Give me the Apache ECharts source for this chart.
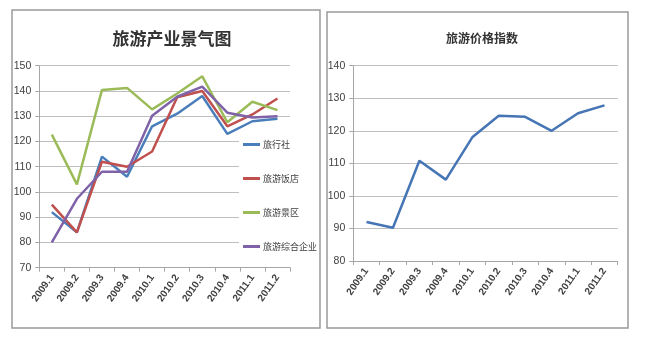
<!DOCTYPE html>
<html>
<head>
<meta charset="utf-8">
<script src="https://cdn.jsdelivr.net/npm/echarts@6/dist/echarts.min.js"></script>
<style>html,body{margin:0;padding:0;background:#fff;}#c{width:650px;height:337px;}</style>
</head>
<body>
<div id="c"></div>
<script>
var categories = ['2009.1','2009.2','2009.3','2009.4','2010.1','2010.2','2010.3','2010.4','2011.1','2011.2'];
var travelAgency = [92, 84, 114, 106, 126, 131, 138, 123, 128, 129];
var hotel = [95, 84, 112, 110, 116, 137.5, 140, 126, 130.7, 137];
var scenic = [122.7, 103, 140.4, 141.2, 132.7, 139, 145.8, 127.6, 135.7, 132.4];
var integrated = [80, 97.3, 108, 108, 130.2, 137.7, 141.7, 131.4, 129.5, 130];
var priceIndex = [92, 90.2, 110.8, 105, 118, 124.6, 124.3, 120, 125.4, 127.8];
var leftTicks = {min: 70, max: 150, interval: 10};
var rightTicks = {min: 80, max: 140, interval: 10};

var labelFont = "'Liberation Sans Narrow','Liberation Sans',Arial,sans-serif";
var cjk = "'Noto Sans CJK SC',sans-serif";
var chart = echarts.init(document.getElementById('c'), null, {renderer: 'canvas'});

function xAxisCfg(gi) {
  return {
    type: 'category', gridIndex: gi, data: categories, boundaryGap: true,
    axisLine: {show: true, lineStyle: {color: '#A6A6A6', width: 1}},
    axisTick: {show: true, alignWithLabel: false, length: 4, lineStyle: {color: '#A6A6A6'}},
    axisLabel: {rotate: 55, interval: 0, margin: 8, fontSize: 10, fontWeight: 'bold', color: '#404040', fontFamily: labelFont}
  };
}
function yAxisCfg(gi, t) {
  return {
    type: 'value', gridIndex: gi, min: t.min, max: t.max, interval: t.interval,
    axisLine: {show: true, lineStyle: {color: '#A6A6A6', width: 1}},
    axisTick: {show: true, length: 4, lineStyle: {color: '#A6A6A6'}},
    splitLine: {show: true, lineStyle: {color: '#BFBFBF', width: 1}},
    axisLabel: {fontSize: 10.5, margin: 8, color: '#404040', fontFamily: labelFont}
  };
}
function lineSeries(name, data, color, xi, yi) {
  return {
    name: name, type: 'line', xAxisIndex: xi, yAxisIndex: yi, data: data,
    symbol: 'none', smooth: false, z: 2,
    lineStyle: {color: color, width: 2.5}, itemStyle: {color: color}
  };
}

var option = {
  backgroundColor: '#fff',
  animation: false,
  graphic: [
    {type: 'rect', shape: {x: 12, y: 10, width: 308, height: 318}, style: {fill: 'none', stroke: '#9A9A9A', lineWidth: 1.5}, z: 10},
    {type: 'rect', shape: {x: 327, y: 12, width: 301, height: 316}, style: {fill: 'none', stroke: '#9A9A9A', lineWidth: 1.5}, z: 10}
  ],
  title: [
    {text: '旅游产业景气图', left: 167, top: 25, textAlign: 'center',
     textStyle: {fontFamily: cjk, fontSize: 17, fontWeight: 'bold', color: '#333'}},
    {text: '旅游价格指数', left: 477, top: 27, textAlign: 'center',
     textStyle: {fontFamily: cjk, fontSize: 12, fontWeight: 'bold', color: '#333'}}
  ],
  legend: {
    orient: 'vertical', left: 239, top: 134, padding: [6, 1, 6, 4],
    backgroundColor: '#fff', itemWidth: 17, itemHeight: 12, itemGap: 25,
    icon: 'path://M0,0 L17,0 L17,3 L0,3 Z',
    textStyle: {fontFamily: cjk, fontSize: 9, color: '#404040', padding: [0, 0, 0, -2]},
    data: ['旅行社', '旅游饭店', '旅游景区', '旅游综合企业']
  },
  grid: [
    {left: 39.3, right: 360, top: 65.7, bottom: 69.3, containLabel: false},
    {left: 353.3, right: 32.3, top: 65.7, bottom: 76, containLabel: false}
  ],
  xAxis: [xAxisCfg(0), xAxisCfg(1)],
  yAxis: [yAxisCfg(0, leftTicks), yAxisCfg(1, rightTicks)],
  series: [
    lineSeries('旅行社', travelAgency, '#4A7EBB', 0, 0),
    lineSeries('旅游饭店', hotel, '#C0504D', 0, 0),
    lineSeries('旅游景区', scenic, '#9BBB59', 0, 0),
    lineSeries('旅游综合企业', integrated, '#7F62A8', 0, 0),
    lineSeries('旅游价格指数', priceIndex, '#4675B5', 1, 1)
  ]
};
chart.setOption(option);
</script>
</body>
</html>
